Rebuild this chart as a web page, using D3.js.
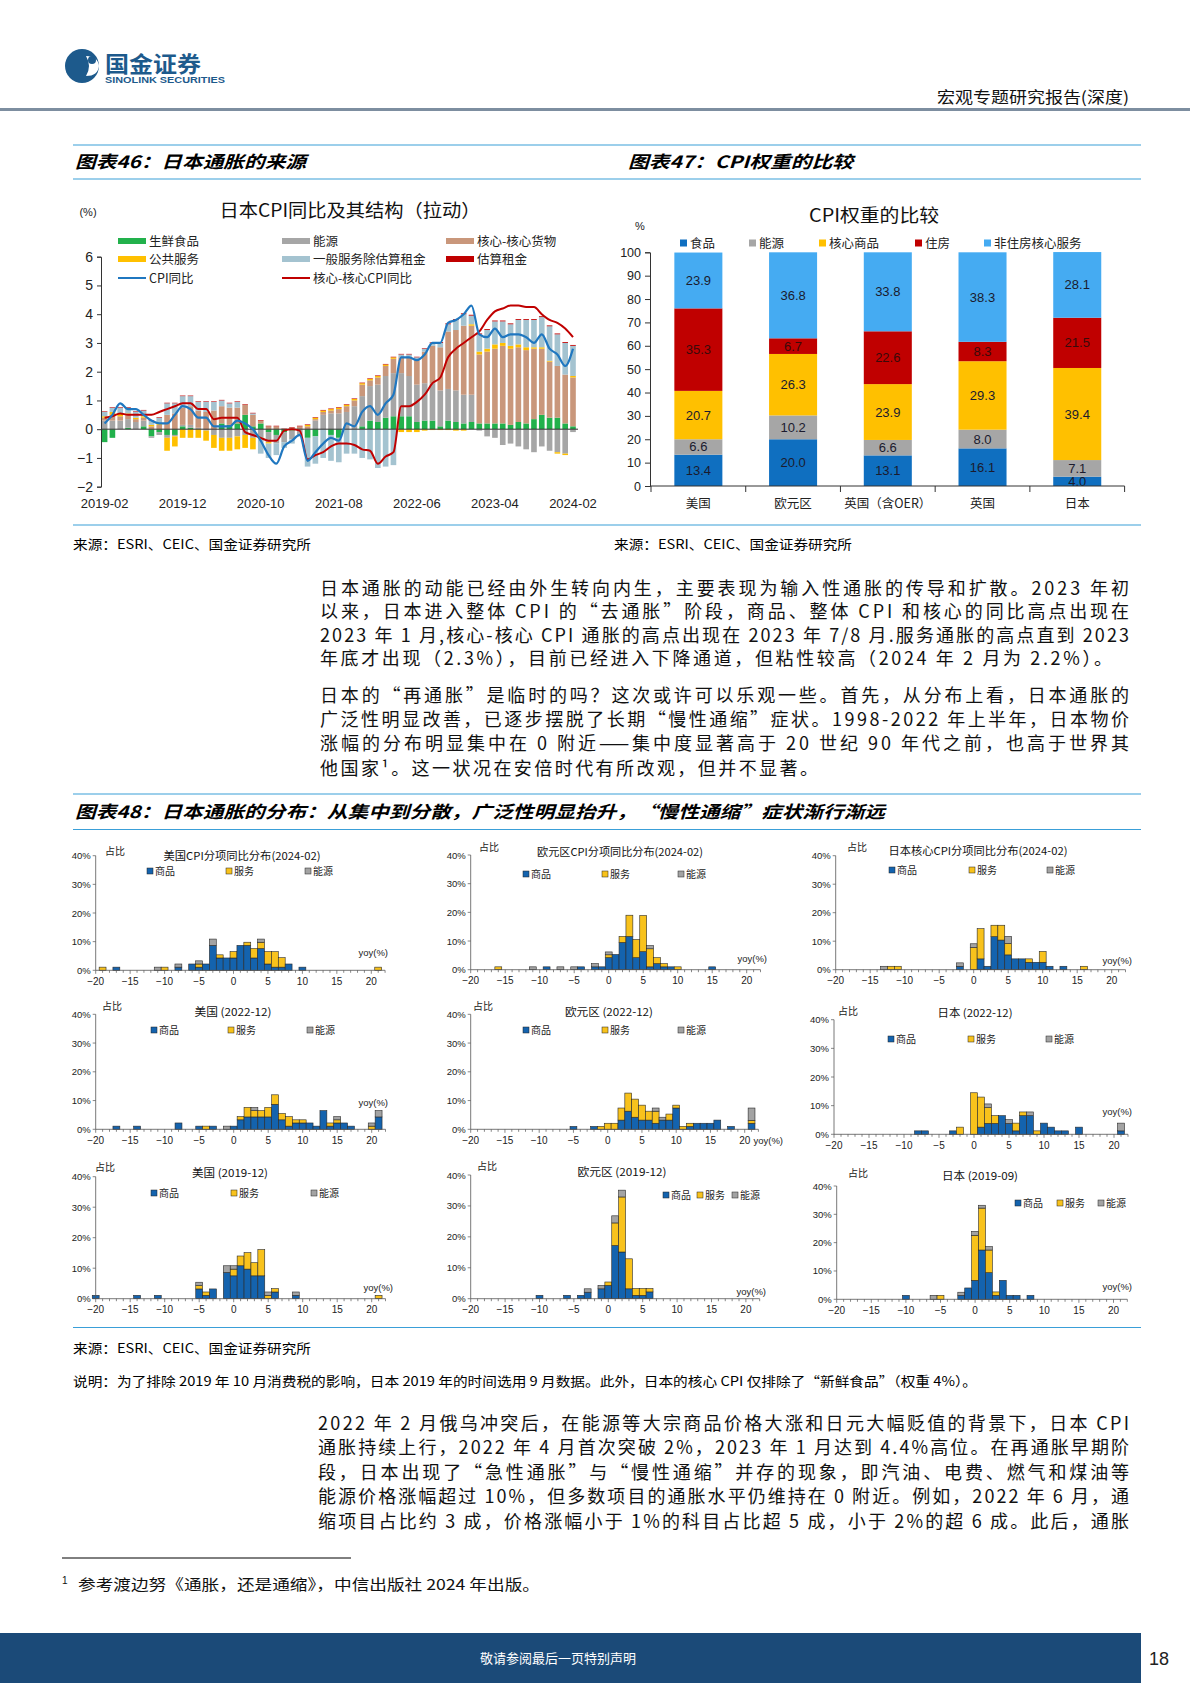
<!DOCTYPE html>
<html><head><meta charset="utf-8">
<script src="https://cdn.jsdelivr.net/npm/d3@7"></script>
<style>body{margin:0;background:#fff}</style>
</head><body>
<svg id="page" width="1190" height="1683"></svg>
<script>
// ================= DATA =================
// Chart 46: Japan CPI yoy and contributions (2019-02 .. 2024-02, monthly)
const tickLabels46 = ["2019-02","2019-12","2020-10","2021-08","2022-06","2023-04","2024-02"];
const freshFood = [-0.45,-0.3,0.0,0.05,0.0,0.1,-0.25,-0.1,-0.2,-0.2,
  0.1,0.05,0.0,0.0,0.0,0.2,0.15,0.2,0.5,0.1,
  0.2,-0.1,-0.2,-0.1,-0.05,0.0,-0.3,-0.25,0.0,-0.2,
  -0.3,0.0,0.0,0.1,0.3,0.25,0.4,0.45,0.45,0.45,
  0.25,0.3,0.3,0.1,0.3,0.25,0.2,0.25,0.2,0.2,
  0.2,0.2,0.15,0.25,0.2,0.35,0.5,0.4,0.4,0.2,0.1];
const energy46 = [0.3,0.3,0.3,0.3,0.25,0.2,-0.05,-0.1,-0.1,-0.05,
  0.05,0.1,0.05,-0.05,-0.2,-0.3,-0.3,-0.25,-0.2,-0.3,
  -0.3,-0.35,-0.3,-0.35,-0.3,-0.2,0.0,0.3,0.5,0.55,
  0.55,0.6,0.8,1.05,1.2,1.3,1.45,1.5,1.5,1.4,
  1.3,1.3,1.3,1.25,1.1,1.1,1.0,0.95,-0.05,-0.25,
  -0.3,-0.55,-0.5,-0.6,-0.7,-0.8,-0.6,-0.75,-0.8,-0.85,-0.1];
const coreGoods = [0.1,0.2,0.15,0.15,0.1,0.1,0.1,0.15,0.5,0.55,
  0.6,0.65,0.6,0.6,0.65,0.6,0.6,0.55,0.35,0.4,
  0.1,0.1,0.1,0.0,0.05,0.1,0.1,0.05,0.1,0.1,
  0.15,0.2,0.2,0.4,0.2,0.25,0.35,0.5,0.55,0.65,
  0.85,1.1,1.3,1.5,2.0,2.1,2.4,2.4,2.4,2.5,
  2.6,2.7,2.65,2.6,2.55,2.45,2.3,1.95,1.8,1.7,1.7];
const publicServ = [0.05,0.1,0.1,0.05,0.05,0.05,0.05,0.05,-0.45,-0.35,
  -0.3,-0.3,-0.3,-0.35,-0.45,-0.45,-0.45,-0.45,-0.45,-0.4,
  -0.05,-0.05,0.0,0.0,0.0,0.0,0.05,0.05,0.05,0.05,
  0.05,0.05,0.05,0.05,0.05,0.05,0.05,0.05,-0.1,-0.1,
  -0.1,-0.05,-0.03,-0.03,-0.03,-0.05,-0.05,0.05,0.1,0.1,
  0.15,0.1,0.1,0.1,0.1,0.05,0.05,0.03,-0.05,-0.05,0.05];
const generalServ = [0.15,0.15,0.2,0.2,0.2,0.2,0.15,0.2,0.4,0.35,
  0.4,0.35,0.3,0.35,0.3,0.2,0.15,0.2,0.0,0.05,
  -0.5,-0.5,-0.4,-0.2,-0.15,-0.05,-1.0,-0.95,-1.0,-0.9,
  -0.85,-0.85,-0.85,-1.0,-1.05,-1.35,-1.3,-1.25,0.1,0.1,
  0.1,0.1,0.1,0.15,0.25,0.35,0.4,0.3,0.6,0.65,
  0.8,0.75,0.75,0.85,0.95,0.95,1.05,1.2,1.1,1.1,1.05];
const imputedRent = [0.02,0.02,0.02,0.02,0.02,0.02,0.02,0.02,0.02,0.02,
  0.02,0.02,0.02,0.02,0.02,0.02,0.02,0.02,0.02,0.02,
  0.02,0.02,0.02,0.02,0.02,0.02,0.02,0.02,0.02,0.02,
  0.02,0.02,0.02,0.02,0.02,0.02,0.02,0.02,0.02,0.02,
  0.02,0.02,0.02,0.03,0.03,0.03,0.03,0.03,0.03,0.03,
  0.03,0.03,0.03,0.03,0.03,0.03,0.03,0.03,0.03,0.03,0.03];
const cpiYoy = [0.2,0.5,0.9,0.7,0.7,0.5,0.3,0.2,0.2,0.5,
  0.8,0.7,0.4,0.4,0.1,0.1,0.1,0.3,0.2,0.0,
  -0.4,-0.9,-1.2,-0.6,-0.4,-0.2,-1.1,-0.8,-0.5,-0.3,
  -0.4,0.2,0.1,0.6,0.8,0.5,0.9,1.2,2.5,2.5,
  2.4,2.6,3.0,3.0,3.7,3.8,4.0,4.3,3.3,3.2,
  3.5,3.2,3.3,3.3,3.2,3.0,3.3,2.8,2.6,2.2,2.8];
const coreCoreYoy = [0.4,0.45,0.55,0.5,0.5,0.5,0.5,0.6,0.7,0.8,
  0.9,0.9,0.7,0.7,0.35,0.4,0.4,0.4,-0.1,-0.2,
  -0.3,-0.4,-0.4,-0.05,0.0,-0.05,-1.05,-0.9,-0.8,-0.6,
  -0.5,-0.5,-0.55,-0.7,-0.75,-1.2,-0.95,-0.8,0.8,0.8,
  0.95,1.2,1.6,1.8,2.5,2.8,3.0,3.2,3.4,3.8,
  4.1,4.2,4.3,4.3,4.25,4.25,4.0,3.8,3.7,3.5,3.2];

// Chart 47: CPI weights
const cats47 = ["美国","欧元区","英国（含OER）","英国","日本"];
const wFood = [13.4,20.0,13.1,16.1,4.0];
const wEnergy = [6.6,10.2,6.6,8.0,7.1];
const wCoreGoods = [20.7,26.3,23.9,29.3,39.4];
const wHousing = [35.3,6.7,22.6,8.3,21.5];
const wNonHousing = [23.9,36.8,33.8,38.3,28.1];

// Chart 48: distributions, rows = [yoy bin, goods %, services %, energy %]
const us2402 = [[-19,0,1.1,0],[-17,1.1,0,0],[-11,0,0,1.1],[-10,0,1.1,0],[-8,1.1,0,1.1],[-6,2.2,0,0],[-5,1.1,1.1,1.1],[-4,2.2,0,0],[-3,8.7,0,2.2],[-2,4.3,1.1,0],[-1,4.3,0,0],[0,4.3,2.2,0],[1,8.7,0,0],[2,8.7,1.1,0],[3,4.3,3.3,0],[4,7.6,2.2,1.1],[5,2.2,4.3,0],[6,1.1,5.4,0],[7,1.1,3.3,0],[8,2.2,0,0],[10,1.1,0,0],[21,0,1.1,0]];
const eu2402 = [[-16,0,1.0,0],[-11,0,0,1.0],[-9,1.0,0,0],[-7,0,0,1.0],[-5,0,0,1.0],[-4,1.0,0,0],[-2,1.0,0,1.1],[-1,1.0,0,0],[0,4.2,1.0,1.0],[1,5.3,0,0],[2,9.5,2.1,0],[3,11.6,7.4,0],[4,4.2,6.3,0],[5,6.3,12.6,0],[6,1.0,6.3,1.1],[7,2.1,2.1,0],[8,1.0,1.1,0],[9,1.0,0,0],[10,0,1.0,0],[15,1.0,0,0]];
const jp2402 = [[-13,0,0,1.2],[-12,0,1.2,0],[-11,0,1.2,0],[-2,1.2,0,1.2],[0,0,7.8,1.3],[1,3.8,10.6,0],[2,1.2,0,0],[3,11.6,4.0,0],[4,10.4,5.2,0],[5,5.2,4.0,2.5],[6,3.8,0,0],[7,3.8,0,0],[8,2.6,1.2,0],[9,2.6,0,0],[10,2.6,3.8,0],[11,1.2,0,0],[13,1.2,0,0],[16,0,1.2,0]];
const us2212 = [[-17,1.1,0,0],[-14,1.1,0,0],[-8,2.2,0,0],[-5,1.1,0,0],[-4,0,1.1,0],[-3,1.1,0,0],[-1,0,0,1.1],[0,1.1,0,0],[1,3.3,1.1,0],[2,4.3,3.3,0],[3,4.3,2.2,1.1],[4,4.3,2.2,0],[5,4.3,3.3,0],[6,8.7,3.3,0],[7,3.3,2.2,0],[8,1.1,3.3,0],[9,2.2,1.1,0],[10,2.2,1.1,0],[11,2.2,0,0],[12,1.1,0,0],[13,6.5,0,0],[14,1.1,1.1,0],[15,2.2,1.1,1.1],[16,2.2,0,0],[17,1.1,0,0],[20,0,1.1,1.1],[21,4.3,0,2.2]];
const eu2212 = [[-5,1.0,0,0],[-2,1.0,0,0],[-1,0,1.0,0],[0,0,2.1,0],[1,0,2.1,0],[2,3.2,4.2,0],[3,6.3,6.3,0],[4,4.2,6.3,0],[5,3.2,5.2,0],[6,3.2,3.1,0],[7,2.1,4.2,1.1],[8,3.2,0,1.0],[9,3.2,2.1,0],[10,7.4,1.0,0],[11,0,1.0,0],[12,1.0,1.1,0],[13,2.1,0,0],[14,2.1,0,0],[15,2.1,0,0],[16,3.2,0,0],[18,1.0,0,0],[21,2.1,1.0,4.3]];
const jp2212 = [[-8,1.2,0,0],[-7,1.2,0,0],[-3,1.2,0,0],[-2,0,2.5,0],[0,0,14.5,0],[1,2.5,10.5,0],[2,3.8,5.5,1.3],[3,3.8,2.7,0],[4,6.5,0,0],[5,3.8,0,1.3],[6,1.2,2.7,0],[7,6.5,1.3,0],[8,6.5,0,1.3],[9,0,1.2,0],[10,3.9,0,0],[11,2.5,0,0],[12,1.2,0,0],[13,1.2,0,0],[15,2.5,0,0],[21,1.2,0,2.7]];
const us1912 = [[-20,1.1,0,0],[-14,1.1,0,0],[-11,1.1,0,0],[-5,3.2,1.1,1.1],[-4,1.1,1.1,0],[-3,3.2,0,0],[-1,8.6,0,2.2],[0,7.5,2.2,1.1],[1,10.8,3.2,0],[2,9.7,5.4,0],[3,7.5,4.3,0],[4,7.5,8.6,0],[5,0,1.1,1.1],[6,2.2,1.1,0],[9,1.1,0,1.1],[21,0,1.1,0]];
const eu1912 = [[-10,1.1,0,0],[-6,1.1,0,0],[-4,1.1,0,0],[-3,2.1,0,1.1],[-1,3.2,0,1.1],[0,4.3,1.1,0],[1,17.2,7.3,2.3],[2,15.1,17.8,2.2],[3,3.2,9.7,0],[4,1.1,2.2,0],[5,1.1,2.2,0],[6,2.2,1.1,0]];
const jp1909 = [[-10,1.4,0,0],[-6,0,0,1.4],[-5,0,1.4,0],[-2,1.4,0,1.1],[-1,4.0,0,0],[0,6.7,15.9,1.4],[1,17.4,14.8,1.0],[2,9.4,8.0,1.2],[3,1.4,1.2,0],[4,6.7,0,0],[5,1.4,0,0],[6,1.4,0,0],[8,1.4,0,0]];
const histTitles = ["美国CPI分项同比分布(2024-02)","欧元区CPI分项同比分布(2024-02)","日本核心CPI分项同比分布(2024-02)","美国 (2022-12)","欧元区 (2022-12)","日本 (2022-12)","美国 (2019-12)","欧元区 (2019-12)","日本 (2019-09)"];
const histData = [us2402,eu2402,jp2402,us2212,eu2212,jp2212,us1912,eu1912,jp1909];
const histYTicks = [0,10,20,30,40];
const histXTicks = [-20,-15,-10,-5,0,5,10,15,20];

// ================= DRAW =================
const CJK = '"Noto Sans CJK SC","Noto Sans",sans-serif';
const NUM = '"Liberation Sans",Arial,sans-serif';
const svg = d3.select("#page");
function T(g,x,y,s,o={}){
  const t=g.append("text").attr("x",x).attr("y",y).text(s)
    .attr("font-family",o.ff||CJK).attr("font-size",o.fs||12).attr("fill",o.fill||"#000");
  if(o.anchor) t.attr("text-anchor",o.anchor);
  if(o.w) t.attr("textLength",o.w).attr("lengthAdjust",o.adj||"spacingAndGlyphs");
  if(o.fw) t.attr("font-weight",o.fw);
  if(o.fst) t.attr("font-style",o.fst);
  return t;
}
function L(g,x1,y1,x2,y2,c,w){return g.append("line").attr("x1",x1).attr("y1",y1).attr("x2",x2).attr("y2",y2).attr("stroke",c).attr("stroke-width",w);}

// ---- header ----
const hd = svg.append("g");
hd.append("circle").attr("cx",82).attr("cy",66).attr("r",17).attr("fill","#1d5a8c");
hd.append("path").attr("d","M86,56 Q98,56 99,66 Q98,76 86,76 Q92,66 86,56Z").attr("fill","#fff");
hd.append("circle").attr("cx",92).attr("cy",60).attr("r",4).attr("fill","#1d5a8c");
T(hd,105,72,"国金证券",{fs:22,fw:"bold",fill:"#1d5a8c",w:96});
T(hd,105,83,"SINOLINK SECURITIES",{ff:NUM,fs:9,fw:"bold",fill:"#1d5a8c",w:120});
hd.append("rect").attr("x",0).attr("y",108).attr("width",1190).attr("height",3).attr("fill","#7d8ea0");
T(hd,937,103,"宏观专题研究报告(深度)",{fs:16,w:192,fill:"#111"});

// ---- figure titles ----
const BL="#3a9fd8";
L(svg,73,145,1141,145,BL,1.2); L(svg,73,179,1141,179,BL,1.2);
T(svg,75,168,"图表46：日本通胀的来源",{fs:17,fw:"bold",fst:"italic",w:231});
T(svg,628,168,"图表47：CPI权重的比较",{fs:17,fw:"bold",fst:"italic",w:225});
L(svg,73,525,1141,525,BL,1.2);
T(svg,73,549,"来源：ESRI、CEIC、国金证券研究所",{fs:13,w:238});
T(svg,614,549,"来源：ESRI、CEIC、国金证券研究所",{fs:13,w:238});

// ---- Chart 46 ----
(function(){
  const g=svg.append("g");
  const months = d3.timeMonth.range(new Date(2019,1,1), new Date(2024,2,1)).map(d3.timeFormat("%Y-%m"));
  const rows = months.map((m,i)=>({m,fresh:freshFood[i],energy:energy46[i],core:coreGoods[i],pub:publicServ[i],gen:generalServ[i],rent:imputedRent[i]}));
  const x = d3.scalePoint().domain(months).range([104.6,573]);
  const y = d3.scaleLinear().domain([-2,6]).range([486.7,256.7]);
  const bw = x.step()*0.72;
  const keys=["fresh","energy","core","pub","gen","rent"];
  const col={fresh:"#22b14c",energy:"#a6a6a6",core:"#c9977b",pub:"#ffc000",gen:"#a4c3d0",rent:"#c00000"};
  const series=d3.stack().keys(keys).offset(d3.stackOffsetDiverging)(rows);
  series.forEach(s=>{
    g.append("g").selectAll("rect").data(s).join("rect")
      .attr("x",d=>x(d.data.m)-bw/2).attr("width",bw)
      .attr("y",d=>y(Math.max(d[0],d[1]))).attr("height",d=>Math.abs(y(d[0])-y(d[1])))
      .attr("fill",col[s.key]);
  });
  const ya=g.append("g").attr("transform","translate(101,0)").call(d3.axisLeft(y).tickValues([-2,-1,0,1,2,3,4,5,6]).tickSize(4).tickFormat(d3.format("d")));
  ya.select(".domain").attr("stroke","#333");
  ya.selectAll("line").attr("stroke","#333");
  ya.selectAll("text").attr("font-family",NUM).attr("font-size",14).attr("fill","#222").attr("x",-8).text(d=>d<0?"−"+Math.abs(d):d);
  L(g,101,y(0),578,y(0),"#333",1);
  tickLabels46.forEach(t=>T(g,x(t),508,t,{ff:NUM,fs:13,anchor:"middle",fill:"#222"}));
  const line=(arr)=>d3.line().x((d,i)=>x(months[i])).y(d=>y(d)).curve(d3.curveMonotoneX)(arr);
  g.append("path").attr("d",line(coreCoreYoy)).attr("fill","none").attr("stroke","#c00000").attr("stroke-width",2);
  g.append("path").attr("d",line(cpiYoy)).attr("fill","none").attr("stroke","#1f77c0").attr("stroke-width",2.2);
  T(g,88,216,"(%)",{ff:NUM,fs:11,anchor:"middle",fill:"#222"});
  T(g,350,217,"日本CPI同比及其结构（拉动）",{fs:18,anchor:"middle",w:261,fill:"#111"});
  const leg=[["生鲜食品",col.fresh,0,0,"b"],["能源",col.energy,1,0,"b"],["核心-核心货物",col.core,2,0,"b"],
             ["公共服务",col.pub,0,1,"b"],["一般服务除估算租金",col.gen,1,1,"b"],["估算租金",col.rent,2,1,"b"],
             ["CPI同比","#1f77c0",0,2,"l"],["核心-核心CPI同比","#c00000",1,2,"l"]];
  const lx=[118,282,446], ly=[241,259,278];
  leg.forEach(([t,c,ci,ri,k])=>{
    if(k==="b") g.append("rect").attr("x",lx[ci]).attr("y",ly[ri]-3).attr("width",28).attr("height",6).attr("fill",c);
    else L(g,lx[ci],ly[ri],lx[ci]+28,ly[ri],c,2);
    T(g,lx[ci]+31,ly[ri]+4.5,t,{fs:12.5,fill:"#222"});
  });
})();

// ---- Chart 47 ----
(function(){
  const g=svg.append("g");
  const rows=cats47.map((c,i)=>({c,food:wFood[i],energy:wEnergy[i],cg:wCoreGoods[i],house:wHousing[i],nh:wNonHousing[i]}));
  const keys=["food","energy","cg","house","nh"];
  const col={food:"#0f6fc0",energy:"#a6a6a6",cg:"#ffc000",house:"#c00000",nh:"#45abf2"};
  const names={food:"食品",energy:"能源",cg:"核心商品",house:"住房",nh:"非住房核心服务"};
  const x=d3.scaleBand().domain(cats47).range([651,1124.6]).paddingInner(0.493).paddingOuter(0.2465);
  const y=d3.scaleLinear().domain([0,100]).range([486,252.3]);
  const series=d3.stack().keys(keys)(rows);
  series.forEach(s=>{
    const sg=g.append("g");
    sg.selectAll("rect").data(s).join("rect").attr("x",d=>x(d.data.c)).attr("width",x.bandwidth())
      .attr("y",d=>y(d[1])).attr("height",d=>y(d[0])-y(d[1])).attr("fill",col[s.key]);
    sg.selectAll("text").data(s).join("text").attr("x",d=>x(d.data.c)+x.bandwidth()/2)
      .attr("y",d=>(y(d[0])+y(d[1]))/2+4.5).attr("text-anchor","middle").attr("font-family",NUM)
      .attr("font-size",13).attr("fill",s.key==="house"?"#3a0a0a":"#1b1b2e").text(d=>(d[1]-d[0]).toFixed(1));
  });
  const ya=g.append("g").attr("transform","translate(650,0)").call(d3.axisLeft(y).tickValues(d3.range(0,101,10)).tickSize(5));
  ya.select(".domain").attr("stroke","#333"); ya.selectAll("line").attr("stroke","#333");
  ya.selectAll("text").attr("font-family",NUM).attr("font-size",12.5).attr("fill","#222").attr("x",-9);
  L(g,650,486,1124.6,486,"#333",1);
  const step=x.step();
  for(let k=0;k<=cats47.length;k++){ const xx=651+k*step; L(g,xx,486,xx,492,"#333",1); }
  cats47.forEach(c=>T(g,x(c)+x.bandwidth()/2,508,c,{fs:12.5,anchor:"middle",fill:"#222"}));
  T(g,874,222,"CPI权重的比较",{fs:18,anchor:"middle",w:130,fill:"#111"});
  T(g,640,230,"%",{ff:NUM,fs:11,anchor:"middle",fill:"#222"});
  const lxs=[680,749,819,915,984];
  keys.forEach((k,i)=>{
    g.append("rect").attr("x",lxs[i]).attr("y",239.5).attr("width",7).attr("height",7).attr("fill",col[k]);
    T(g,lxs[i]+10,247.5,names[k],{fs:12.5,fill:"#222"});
  });
})();

// ---- paragraphs ----
function para(lines,x0,y0s,full,lastW){
  lines.forEach((s,i)=>{
    const w=(i===lines.length-1 && lastW)?lastW:full;
    T(svg,x0,y0s[i],s,{fs:18,w:w,adj:"spacing",fill:"#111"});
  });
}
para(["日本通胀的动能已经由外生转向内生，主要表现为输入性通胀的传导和扩散。2023 年初",
      "以来，日本进入整体 CPI 的“去通胀”阶段，商品、整体 CPI 和核心的同比高点出现在",
      "2023 年 1 月,核心-核心 CPI 通胀的高点出现在 2023 年 7/8 月.服务通胀的高点直到 2023",
      "年底才出现（2.3%），目前已经进入下降通道，但粘性较高（2024 年 2 月为 2.2%）。"],
     320,[594.5,618,641.5,665],809,792);
para(["日本的“再通胀”是临时的吗？这次或许可以乐观一些。首先，从分布上看，日本通胀的",
      "广泛性明显改善，已逐步摆脱了长期“慢性通缩”症状。1998-2022 年上半年，日本物价",
      "涨幅的分布明显集中在 0 附近——集中度显著高于 20 世纪 90 年代之前，也高于世界其",
      "他国家¹。这一状况在安倍时代有所改观，但并不显著。"],
     320,[701.5,725.5,750,774.5],809,498);

// ---- Figure 48 ----
L(svg,73,794,1141,794,BL,1.2); L(svg,73,829.5,1141,829.5,BL,1.2);
T(svg,75,818,"图表48：日本通胀的分布：从集中到分散，广泛性明显抬升，“慢性通缩”症状渐行渐远",{fs:17,fw:"bold",fst:"italic",w:810});

const histLayout=[
 {x0:95.7,u:6.89,y0:970.3,y40:855.7,tx:242,ty:860,tw:157,ly:871,lx:[147,226,305],yx:388,yy:956,zx:105,zy:855},
 {x0:470.7,u:6.9,y0:969.7,y40:855,tx:620,ty:856,tw:166,ly:874,lx:[523,602,678],yx:767,yy:962,zx:479,zy:851},
 {x0:835.7,u:6.9,y0:969.7,y40:855.7,tx:978,ty:855,tw:179,ly:870,lx:[889,969,1047],yx:1132,yy:964,zx:847,zy:851},
 {x0:95.7,u:6.9,y0:1129.3,y40:1014.3,tx:233,ty:1016,tw:77,ly:1030,lx:[151,228,307],yx:388,yy:1106,zx:102,zy:1010},
 {x0:470.7,u:6.85,y0:1129.3,y40:1014.3,tx:609,ty:1016,tw:88,ly:1030,lx:[523,602,678],yx:783,yy:1144,zx:473,zy:1010},
 {x0:834,u:7.0,y0:1134.3,y40:1019.7,tx:975,ty:1017,tw:75,ly:1039,lx:[888,968,1046],yx:1132,yy:1115,zx:838,zy:1015},
 {x0:95.7,u:6.9,y0:1298.7,y40:1176.7,tx:230,ty:1177,tw:76,ly:1193,lx:[151,231,311],yx:393,yy:1291,zx:95,zy:1171},
 {x0:470.7,u:6.88,y0:1298.7,y40:1175,tx:622,ty:1176,tw:89,ly:1195,lx:[663,697,732],yx:766,yy:1295,zx:477,zy:1170},
 {x0:836.7,u:6.92,y0:1299.3,y40:1186,tx:980,ty:1180,tw:76,ly:1203,lx:[1015,1057,1098],yx:1132,yy:1290,zx:848,zy:1177}
];
const hcol=["#1463ae","#f8c21c","#a3a3a3"], hnames=["商品","服务","能源"];
histLayout.forEach((p,pi)=>{
  const g=svg.append("g");
  const data=histData[pi];
  const x=d3.scaleLinear().domain([-20,22]).range([p.x0,p.x0+42*p.u]);
  const y=d3.scaleLinear().domain([0,40]).range([p.y0,p.y40]);
  data.forEach(r=>{
    let base=0;
    [1,2,3].forEach(k=>{
      if(r[k]>0){
        g.append("rect").attr("x",x(r[0]-0.5)).attr("width",x(r[0]+0.5)-x(r[0]-0.5))
         .attr("y",y(base+r[k])).attr("height",y(base)-y(base+r[k]))
         .attr("fill",hcol[k-1]).attr("stroke","#2a2a2a").attr("stroke-width",0.6);
        base+=r[k];
      }
    });
  });
  L(g,x(-20),p.y0,x(22),p.y0,"#555",0.8);
  d3.range(-20,23).forEach(v=>L(g,x(v),p.y0,x(v),p.y0+(v%5===0?3.5:2.5),"#555",0.7));
  histXTicks.forEach(v=>T(g,x(v),p.y0+14.5,v<0?"−"+Math.abs(v):String(v),{ff:NUM,fs:10,anchor:"middle",fill:"#222"}));
  L(g,p.x0,p.y0,p.x0,p.y40,"#555",0.8);
  histYTicks.forEach(v=>{L(g,p.x0-3,y(v),p.x0,y(v),"#555",0.7);
    T(g,p.x0-5,y(v)+3.5,v+"%",{ff:NUM,fs:9.5,anchor:"end",fill:"#222"});});
  T(g,p.zx,p.zy,"占比",{fs:10,fill:"#222"});
  T(g,p.tx,p.ty,histTitles[pi],{fs:11,anchor:"middle",w:p.tw,fill:"#111"});
  hnames.forEach((n,i)=>{
    g.append("rect").attr("x",p.lx[i]).attr("y",p.ly-3).attr("width",6).attr("height",6).attr("fill",hcol[i]).attr("stroke","#222").attr("stroke-width",0.5);
    T(g,p.lx[i]+8,p.ly+3.5,n,{fs:10,fill:"#222"});
  });
  T(g,p.yx,p.yy,"yoy(%)",{ff:NUM,fs:9.5,anchor:"end",fill:"#222"});
});

L(svg,73,1327.5,1141,1327.5,BL,1.2);
T(svg,73,1353,"来源：ESRI、CEIC、国金证券研究所",{fs:13,w:238});
T(svg,73,1386,"说明：为了排除 2019 年 10 月消费税的影响，日本 2019 年的时间选用 9 月数据。此外，日本的核心 CPI 仅排除了“新鲜食品”（权重 4%）。",{fs:13,w:904});

para(["2022 年 2 月俄乌冲突后，在能源等大宗商品价格大涨和日元大幅贬值的背景下，日本 CPI",
      "通胀持续上行，2022 年 4 月首次突破 2%，2023 年 1 月达到 4.4%高位。在再通胀早期阶",
      "段，日本出现了“急性通胀”与“慢性通缩”并存的现象，即汽油、电费、燃气和煤油等",
      "能源价格涨幅超过 10%，但多数项目的通胀水平仍维持在 0 附近。例如，2022 年 6 月，通",
      "缩项目占比约 3 成，价格涨幅小于 1%的科目占比超 5 成，小于 2%的超 6 成。此后，通胀"],
     318,[1429.5,1454,1478.5,1503,1528],811,811);

L(svg,62,1558,351,1558,"#000",1);
T(svg,62,1584,"1",{ff:NUM,fs:10,fill:"#111"});
T(svg,78,1590,"参考渡边努《通胀，还是通缩》，中信出版社 2024 年出版。",{fs:15,w:462,fill:"#111"});

svg.append("rect").attr("x",0).attr("y",1633).attr("width",1141).attr("height",50).attr("fill","#1b4a78");
T(svg,558,1663,"敬请参阅最后一页特别声明",{fs:13,anchor:"middle",fill:"#fff",w:156});
T(svg,1159,1665,"18",{ff:NUM,fs:18,anchor:"middle",fill:"#222"});
</script>
</body></html>
